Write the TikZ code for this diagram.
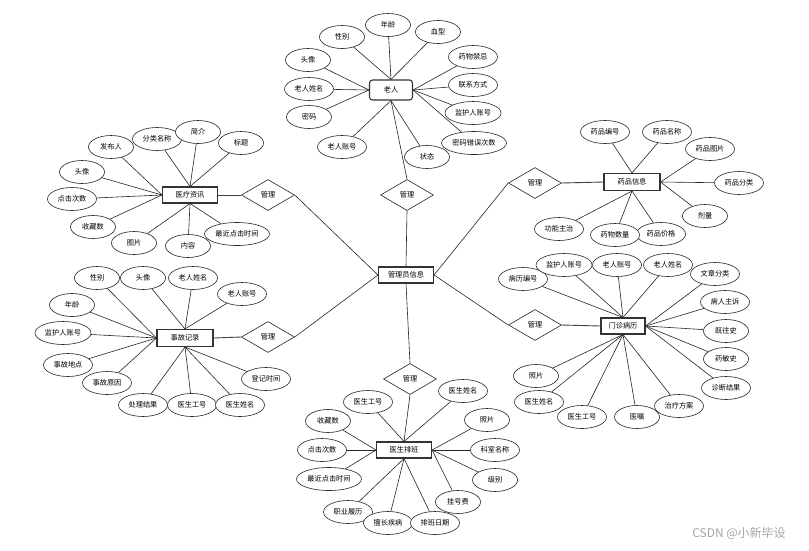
\documentclass[tikz,border=0pt]{standalone}
\usepackage{fontspec}
\setmainfont{Noto Sans CJK SC}
\usetikzlibrary{shapes.geometric}
\tikzset{
  attr/.style={draw=black!85, ellipse, line width=0.6pt, fill=white, minimum width=45pt, minimum height=23pt, inner sep=0pt, font=\fontsize{7.2}{8}\selectfont},
  atf/.style={attr, minimum width=49pt},
  atv/.style={attr, minimum width=56pt},
  ats/.style={attr, minimum width=65pt},
  ent/.style={draw=black!80, rectangle, line width=1.1pt, fill=white, minimum width=55pt, minimum height=16pt, inner sep=0pt, font=\fontsize{7.2}{8}\selectfont},
  rel/.style={draw=black!85, diamond, line width=0.6pt, fill=white, minimum width=53pt, minimum height=31pt, inner sep=0pt, font=\fontsize{7.2}{8}\selectfont},
  ln/.style={line width=0.6pt, draw=black!85},
  lk/.style={line width=0.9pt, draw=black!75}
}
\begin{document}
\begin{tikzpicture}[x=1pt,y=-1pt]
\useasboundingbox[fill=white] (0,0) rectangle (809,550);

% ---------- entities ----------
\node[ent, rounded corners=3pt, minimum width=43pt, minimum height=20pt] (lr) at (391,90) {老人};
\node[ent] (yl) at (190,195) {医疗资讯};
\node[ent, minimum width=56pt, minimum height=17pt] (yp) at (632,182) {药品信息};
\node[ent, minimum width=44pt] (mz) at (623,326) {门诊病历};
\node[ent, minimum width=56pt, minimum height=17pt] (sg) at (185,338) {事故记录};
\node[ent] (ys) at (404,450) {医生排班};
\node[ent] (ad) at (406,275) {管理员信息};

% ---------- relations ----------
\node[rel] (d1) at (407,195) {管理};
\node[rel] (d2) at (268,195) {管理};
\node[rel] (d3) at (268,337) {管理};
\node[rel] (d4) at (535,183) {管理};
\node[rel] (d5) at (535,325) {管理};
\node[rel] (d6) at (410,379) {管理};

\draw[ln] (d1.north) -- (lr.south);
\draw[ln] (d1.south) -- (ad.north);
\draw[lk] (d2.west) -- (yl.east);
\draw[ln] (d2.east) -- (ad.west);
\draw[lk] (d3.west) -- (sg.east);
\draw[ln] (d3.east) -- (ad.west);
\draw[lk] (d4.east) -- (yp.west);
\draw[ln] (d4.west) -- (ad.east);
\draw[lk] (d5.east) -- (mz.west);
\draw[ln] (d5.west) -- (ad.east);
\draw[ln] (d6.north) -- (ad.south);
\draw[ln] (d6.south) -- (ys.north);

% ---------- 老人 attributes ----------
\node[attr] (lr1) at (342,37) {性别};
\node[attr] (lr2) at (388,25) {年龄};
\node[attr] (lr3) at (438,32) {血型};
\node[attr] (lr4) at (308,60) {头像};
\node[atf] (lr5) at (473,57) {药物禁忌};
\node[atf] (lr6) at (309,89) {老人姓名};
\node[atf] (lr7) at (473,85) {联系方式};
\node[attr] (lr8) at (309,117) {密码};
\node[atv] (lr9) at (473,113) {监护人账号};
\node[atf] (lr10) at (342,147) {老人账号};
\node[ats] (lr11) at (474,143) {密码错误次数};
\node[attr] (lr12) at (427,157) {状态};
\foreach \i in {1,2,3} \draw[ln] (lr\i) -- (lr.north);
\foreach \i in {4,6,8} \draw[ln] (lr\i) -- (lr.west);
\foreach \i in {5,7,9,11} \draw[ln] (lr\i) -- (lr.east);
\foreach \i in {10,12} \draw[ln] (lr\i) -- (lr.south);

% ---------- 医疗资讯 attributes ----------
\node[attr] (yl1) at (111,147) {发布人};
\node[atf] (yl2) at (157,139) {分类名称};
\node[attr] (yl3) at (198,132) {简介};
\node[attr] (yl4) at (241,143) {标题};
\node[attr] (yl5) at (82,172) {头像};
\node[atf] (yl6) at (72,199) {点击次数};
\node[attr] (yl7) at (93,227) {收藏数};
\node[attr] (yl8) at (134,243) {图片};
\node[attr] (yl9) at (188,246) {内容};
\node[ats] (yl10) at (237,234) {最近点击时间};
\foreach \i in {2,3,4} \draw[ln] (yl\i) -- (yl.north);
\foreach \i in {1,5,6,7} \draw[ln] (yl\i) -- (yl.west);
\foreach \i in {8,9,10} \draw[ln] (yl\i) -- (yl.south);

% ---------- 药品信息 attributes ----------
\node[atf] (yp1) at (605,132) {药品编号};
\node[atf] (yp2) at (667,132) {药品名称};
\node[atf] (yp3) at (710,149) {药品图片};
\node[atf] (yp4) at (739,183) {药品分类};
\node[attr] (yp5) at (705,216) {剂量};
\node[atf] (yp6) at (661,234) {药品价格};
\node[atf] (yp7) at (615,235) {药物数量};
\node[atf] (yp8) at (559,229) {功能主治};
\foreach \i in {1,2} \draw[ln] (yp\i) -- (yp.north);
\foreach \i in {3,4,5} \draw[ln] (yp\i) -- (yp.east);
\foreach \i in {6,7,8} \draw[ln] (yp\i) -- (yp.south);

% ---------- 门诊病历 attributes ----------
\node[atf] (mz1) at (523,279) {病历编号};
\node[atv] (mz2) at (564,265) {监护人账号};
\node[atf] (mz3) at (617,265) {老人账号};
\node[atf] (mz4) at (668,265) {老人姓名};
\node[atf] (mz5) at (715,274) {文章分类};
\node[atf] (mz6) at (725,302) {病人主诉};
\node[attr] (mz7) at (726,331) {既往史};
\node[attr] (mz8) at (726,359) {药敏史};
\node[atf] (mz9) at (726,388) {诊断结果};
\node[atf] (mz10) at (679,406) {治疗方案};
\node[attr] (mz11) at (637,417) {医嘱};
\node[atf] (mz12) at (582,417) {医生工号};
\node[atf] (mz13) at (539,402) {医生姓名};
\node[attr] (mz14) at (536,376) {照片};
\foreach \i in {1,2,3,4} \draw[ln] (mz\i) -- (mz.north);
\foreach \i in {5,6,7,8,9} \draw[ln] (mz\i) -- (mz.east);
\foreach \i in {10,11,12,13,14} \draw[ln] (mz\i) -- (mz.south);

% ---------- 事故记录 attributes ----------
\node[attr] (sg1) at (97,278) {性别};
\node[attr] (sg2) at (143,278) {头像};
\node[atf] (sg3) at (193,278) {老人姓名};
\node[atf] (sg4) at (242,294) {老人账号};
\node[attr] (sg5) at (72,305) {年龄};
\node[atv] (sg6) at (63,333) {监护人账号};
\node[atf] (sg7) at (68,365) {事故地点};
\node[atf] (sg8) at (107,383) {事故原因};
\node[atf] (sg9) at (143,405) {处理结果};
\node[atf] (sg10) at (192,405) {医生工号};
\node[atf] (sg11) at (240,405) {医生姓名};
\node[atf] (sg12) at (266,379) {登记时间};
\foreach \i in {2,3,4} \draw[ln] (sg\i) -- (sg.north);
\foreach \i in {1,5,6,7,8} \draw[ln] (sg\i) -- (sg.west);
\foreach \i in {9,10,11,12} \draw[ln] (sg\i) -- (sg.south);

% ---------- 医生排班 attributes ----------
\node[atf] (ys1) at (368,402) {医生工号};
\node[atf] (ys2) at (463,391) {医生姓名};
\node[attr] (ys3) at (328,421) {收藏数};
\node[attr] (ys4) at (487,420) {照片};
\node[atf] (ys5) at (322,450) {点击次数};
\node[atf] (ys6) at (495,450) {科室名称};
\node[ats] (ys7) at (329,479) {最近点击时间};
\node[attr] (ys8) at (495,480) {级别};
\node[attr] (ys9) at (458,502) {挂号费};
\node[atf] (ys10) at (348,512) {职业履历};
\node[atf] (ys11) at (388,523) {擅长疾病};
\node[atf] (ys12) at (435,523) {排班日期};
\foreach \i in {1,2} \draw[ln] (ys\i) -- (ys.north);
\foreach \i in {3,5,7} \draw[ln] (ys\i) -- (ys.west);
\foreach \i in {4,6,8,9} \draw[ln] (ys\i) -- (ys.east);
\foreach \i in {10,11,12} \draw[ln] (ys\i) -- (ys.south);

% ---------- watermark ----------
\node[text=black!35, font=\fontsize{12}{14}\selectfont, inner sep=0pt] (wm) at (739,533) {CSDN @小新毕设};
\end{tikzpicture}
\end{document}
